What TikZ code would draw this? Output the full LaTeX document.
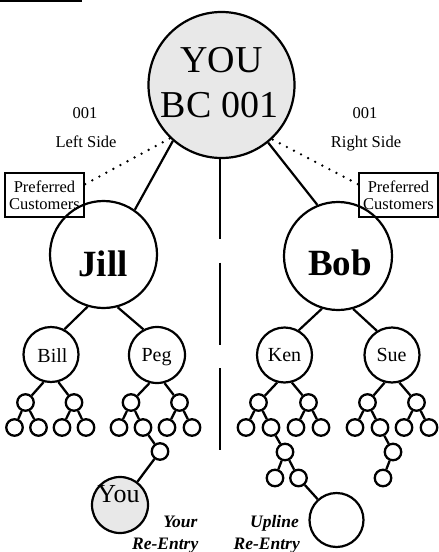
\documentclass[tikz,border=0pt]{standalone}
\usepackage{fontspec}
\setmainfont{Liberation Serif}
\begin{document}
\begin{tikzpicture}[x=1pt,y=-1pt,
  ring/.style={circle,draw,line width=2.2pt,inner sep=0pt,minimum size=#1},
  ring/.default=55pt,
  greyfill/.style={fill=black!9},
  knot/.style={circle,draw,line width=2.3pt,inner sep=0pt,minimum size=16.5pt},
  link/.style={line width=2.2pt},
  twig/.style={line width=2.3pt},
  pcbox/.style={draw,line width=2.5pt,minimum width=79pt,minimum height=44pt,inner sep=0pt},
  pcline/.style={dash pattern=on 0pt off 8pt,line cap=round,line width=2.6pt},
  divider/.style={line width=2.3pt,dash pattern=on 82pt off 23.5pt},
  txt/.style={anchor=base,inner sep=0pt},
  rtxt/.style={anchor=base east,inner sep=0pt},
  toptext/.style={font=\fontsize{38}{40}\selectfont},
  membertext/.style={font=\bfseries\fontsize{37}{39}\selectfont},
  labeltext/.style={font=\fontsize{16.5}{18}\selectfont},
  midtext/.style={font=\fontsize{20}{22}\selectfont},
  entrytext/.style={font=\bfseries\itshape\fontsize{17.5}{19}\selectfont},
]
\useasboundingbox (0,0) rectangle (439,552);

% rule at the top left
\coordinate (rulea) at (0,1.2);
\coordinate (ruleb) at (82,1.2);
\draw[line width=1.8pt] (rulea) -- (ruleb);

% top member
\node[ring=146pt,greyfill] (you) at (221.5,85) {};
\node[txt,toptext] (youname) at (221.5,72) {YOU};
\node[txt,toptext] (youid) at (219.5,117) {BC 001};

% side labels
\node[txt,labeltext] (lnum) at (85,118) {001};
\node[txt,labeltext] (lside) at (86,147) {Left Side};
\node[txt,labeltext] (rnum) at (365,118) {001};
\node[txt,labeltext] (rside) at (366,147) {Right Side};

% preferred customer boxes
\node[pcbox] (pcl) at (44.5,195) {};
\node[txt,labeltext] (pcla) at (44.5,192.5) {Preferred};
\node[txt,labeltext] (pclb) at (44.5,209) {Customers};
\node[pcbox] (pcr) at (398.5,195) {};
\node[txt,labeltext] (pcra) at (398.5,192.5) {Preferred};
\node[txt,labeltext] (pcrb) at (398.5,209) {Customers};
\draw[pcline] (pcl.15) -- (you.226.5);
\draw[pcline] (pcr.165) -- (you.313.5);

% centre divider
\coordinate (divtop) at (220,157);
\coordinate (divbot) at (220,451);
\draw[divider] (divtop) -- (divbot);

% first level
\node[ring=107pt] (jill) at (103.5,254.5) {};
\node[txt,membertext] (jillname) at (103,276) {Jill};
\node[ring=108pt] (bob) at (338,256) {};
\node[txt,membertext] (bobname) at (340,275) {Bob};
\draw[link] (you.229.5) -- (jill.55);
\draw[link] (you.309.5) -- (bob.112);

% second level
\node[ring] (bill) at (51,354.5) {};
\node[txt,midtext] (billname) at (52.5,362) {Bill};
\node[ring=56pt] (peg) at (157,355) {};
\node[txt,midtext] (pegname) at (156.5,361.5) {Peg};
\node[ring] (ken) at (284.5,355) {};
\node[txt,midtext] (kenname) at (284.5,361) {Ken};
\node[ring] (sue) at (392,355) {};
\node[txt,midtext] (suename) at (391.5,361) {Sue};
\draw[link] (jill.253.5) -- (bill.62);
\draw[link] (jill.285.5) -- (peg.118);
\draw[link] (bob.253) -- (ken.60);
\draw[link] (bob.286) -- (sue.122);

% small downlines under each member
\foreach \p/\xa/\xb/\ya/\yb/\yc/\yd in
  {bill/25.5/74/14.5/38.5/62/86,
   peg/131/179.5/119/143/167/192,
   ken/258.5/308.5/246/271/296/321,
   sue/367.5/416.5/355/380/404/429}{
  \node[knot] (\p-a) at (\xa,402.5) {};
  \node[knot] (\p-b) at (\xb,402.5) {};
  \node[knot] (\p-aa) at (\ya,427.5) {};
  \node[knot] (\p-ab) at (\yb,427.5) {};
  \node[knot] (\p-ba) at (\yc,427.5) {};
  \node[knot] (\p-bb) at (\yd,427.5) {};
  \draw[twig] (\p.255) -- (\p-a);
  \draw[twig] (\p.285) -- (\p-b);
  \draw[twig] (\p-a) -- (\p-aa);
  \draw[twig] (\p-a) -- (\p-ab);
  \draw[twig] (\p-b) -- (\p-ba);
  \draw[twig] (\p-b) -- (\p-bb);
}

% re-entry under Peg
\node[knot] (e1) at (160,451.5) {};
\node[ring=56pt,greyfill] (reyou) at (120,505) {};
\node[txt,font=\fontsize{26}{28}\selectfont] (reyouname) at (118.5,502.5) {You};
\draw[twig] (peg-ab) -- (e1);
\draw[twig] (e1) -- (reyou);
\node[rtxt,entrytext] (yourre1) at (197.5,527.5) {Your};
\node[rtxt,entrytext] (yourre2) at (198.5,549) {Re-Entry};

% upline re-entry under Ken
\node[knot] (k1) at (285,452) {};
\node[knot] (k2) at (275,478) {};
\node[knot] (k3) at (298.5,478) {};
\node[ring=54pt] (upline) at (336.5,520) {};
\draw[twig] (ken-ab) -- (k1);
\draw[twig] (k1) -- (k2);
\draw[twig] (k1) -- (k3);
\draw[twig] (k3) -- (upline);
\node[rtxt,entrytext] (uplre1) at (299,527.5) {Upline};
\node[rtxt,entrytext] (uplre2) at (300,549) {Re-Entry};

% extra leg under Sue
\node[knot] (s1) at (393,452) {};
\node[knot] (s2) at (383,478) {};
\draw[twig] (sue-ab) -- (s1);
\draw[twig] (s1) -- (s2);
\end{tikzpicture}
\end{document}
